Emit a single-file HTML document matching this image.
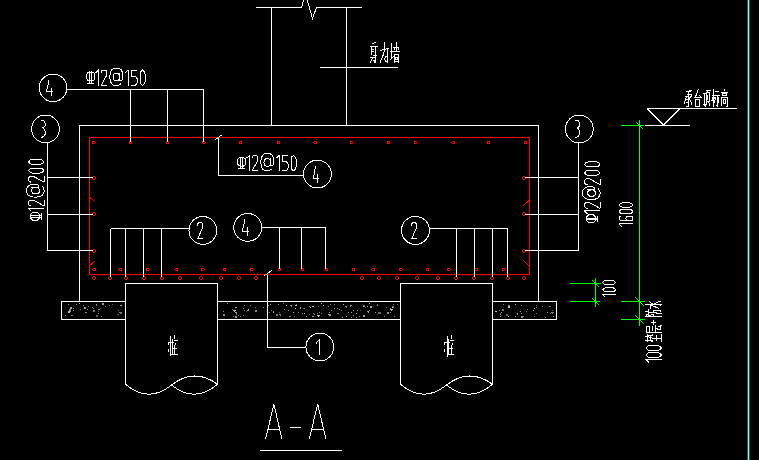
<!DOCTYPE html>
<html><head><meta charset="utf-8"><title>A-A</title>
<style>html,body{margin:0;padding:0;background:#000;overflow:hidden;font-family:"Liberation Sans",sans-serif;}svg{display:block}</style>
</head><body>
<svg width="759" height="460" viewBox="0 0 759 460" shape-rendering="crispEdges">
<rect x="0" y="0" width="759" height="460" fill="#000"/>
<line x1="748.5" y1="0" x2="748.5" y2="460" stroke="#7dfbfa" stroke-width="1.7" shape-rendering="auto"/>
<line x1="271.5" y1="8" x2="271.5" y2="125" stroke="#fff" stroke-width="1" shape-rendering="crispEdges"/>
<line x1="346.5" y1="8" x2="346.5" y2="125" stroke="#fff" stroke-width="1" shape-rendering="crispEdges"/>
<line x1="256" y1="7.5" x2="302" y2="7.5" stroke="#fff" stroke-width="1" shape-rendering="crispEdges"/>
<line x1="316.5" y1="7.5" x2="362" y2="7.5" stroke="#fff" stroke-width="1" shape-rendering="crispEdges"/>
<path d="M301.5,7.5 L305.5,-6 L312.5,18.5 L316.5,7.5" stroke="#fff" stroke-width="1" fill="none" />
<line x1="320" y1="67.5" x2="398" y2="67.5" stroke="#fff" stroke-width="1" shape-rendering="crispEdges"/>
<path d="M79.5,301 L79.5,125.5 L538.5,125.5 L538.5,301" stroke="#fff" stroke-width="1" fill="none" shape-rendering="crispEdges"/>
<path d="M89.5,137.5 L529.5,137.5 L529.5,274.5 L89.5,274.5 Z" stroke="#ff0000" stroke-width="1.3" fill="none" shape-rendering="crispEdges"/>
<rect x="82.6" y="305.1" width="1" height="1" fill="#8a8a8a"/>
<rect x="112.0" y="304.3" width="1" height="1" fill="#666"/>
<rect x="76.2" y="304.2" width="1" height="1" fill="#a0a0a0"/>
<rect x="68.9" y="308.9" width="2" height="2" fill="#8a8a8a"/>
<rect x="119.4" y="311.8" width="1" height="1" fill="#8a8a8a"/>
<path d="M97.5,308.6 l3,0 l-1.5,1.8 z" fill="#8a8a8a"/>
<rect x="96.3" y="304.9" width="1" height="1" fill="#666"/>
<rect x="70.4" y="307.3" width="2" height="2" fill="#a0a0a0"/>
<rect x="69.6" y="311.0" width="1" height="1" fill="#8a8a8a"/>
<rect x="95.8" y="303.9" width="1" height="1" fill="#a0a0a0"/>
<rect x="92.8" y="310.4" width="2" height="2" fill="#777"/>
<rect x="98.0" y="309.3" width="1" height="1" fill="#a0a0a0"/>
<rect x="104.7" y="306.4" width="1" height="1" fill="#666"/>
<rect x="92.7" y="307.8" width="1" height="1" fill="#666"/>
<rect x="121.3" y="304.7" width="1" height="1" fill="#bdbdbd"/>
<rect x="72.5" y="309.8" width="1" height="1" fill="#959595"/>
<rect x="68.1" y="310.8" width="2" height="2" fill="#bdbdbd"/>
<rect x="83.6" y="307.9" width="1" height="1" fill="#777"/>
<rect x="67.6" y="304.3" width="1" height="1" fill="#959595"/>
<rect x="102.7" y="303.8" width="1" height="1" fill="#959595"/>
<rect x="97.6" y="312.5" width="1" height="1" fill="#959595"/>
<rect x="86.3" y="312.4" width="1" height="1" fill="#777"/>
<rect x="84.5" y="311.6" width="1" height="1" fill="#a0a0a0"/>
<rect x="108.8" y="304.8" width="1" height="1" fill="#777"/>
<rect x="117.6" y="310.0" width="1" height="1" fill="#777"/>
<rect x="95.9" y="315.4" width="2" height="2" fill="#666"/>
<rect x="79.9" y="308.8" width="1" height="1" fill="#777"/>
<rect x="120.0" y="305.1" width="1" height="1" fill="#a0a0a0"/>
<rect x="102.4" y="303.2" width="2" height="2" fill="#a0a0a0"/>
<rect x="79.0" y="303.1" width="1" height="1" fill="#bdbdbd"/>
<rect x="99.5" y="307.5" width="1" height="1" fill="#666"/>
<rect x="119.6" y="312.2" width="2" height="2" fill="#777"/>
<path d="M116.6,313.9 l3,0 l-1.5,1.8 z" fill="#666"/>
<rect x="86.7" y="308.6" width="1" height="1" fill="#959595"/>
<path d="M87.1,305.7 l3,0 l-1.5,1.8 z" fill="#777"/>
<rect x="73.1" y="307.8" width="1" height="1" fill="#8a8a8a"/>
<path d="M96.9,310.5 l3,0 l-1.5,1.8 z" fill="#666"/>
<rect x="65.0" y="315.2" width="1" height="1" fill="#a0a0a0"/>
<rect x="100.9" y="316.4" width="1" height="1" fill="#777"/>
<path d="M70.7,314.9 l3,0 l-1.5,1.8 z" fill="#777"/>
<rect x="91.8" y="307.4" width="1" height="1" fill="#959595"/>
<rect x="83.7" y="306.7" width="2" height="2" fill="#a0a0a0"/>
<path d="M311.4,305.9 l3,0 l-1.5,1.8 z" fill="#bdbdbd"/>
<rect x="245.6" y="310.6" width="1" height="1" fill="#666"/>
<rect x="272.6" y="312.0" width="1" height="1" fill="#bdbdbd"/>
<rect x="311.8" y="315.7" width="1" height="1" fill="#a0a0a0"/>
<rect x="314.3" y="313.9" width="1" height="1" fill="#a0a0a0"/>
<rect x="328.7" y="314.0" width="2" height="2" fill="#a0a0a0"/>
<rect x="363.0" y="314.5" width="2" height="2" fill="#a0a0a0"/>
<rect x="255.1" y="309.9" width="2" height="2" fill="#8a8a8a"/>
<rect x="360.1" y="309.6" width="1" height="1" fill="#666"/>
<path d="M389.8,309.3 l3,0 l-1.5,1.8 z" fill="#bdbdbd"/>
<rect x="389.5" y="308.1" width="1" height="1" fill="#a0a0a0"/>
<rect x="303.2" y="307.7" width="1" height="1" fill="#666"/>
<rect x="369.1" y="309.7" width="1" height="1" fill="#959595"/>
<path d="M234.6,312.2 l3,0 l-1.5,1.8 z" fill="#959595"/>
<rect x="353.0" y="309.7" width="1" height="1" fill="#959595"/>
<path d="M278.7,314.2 l3,0 l-1.5,1.8 z" fill="#777"/>
<rect x="301.9" y="313.4" width="1" height="1" fill="#a0a0a0"/>
<rect x="249.8" y="304.8" width="1" height="1" fill="#777"/>
<rect x="363.1" y="305.0" width="2" height="2" fill="#777"/>
<rect x="336.5" y="307.9" width="1" height="1" fill="#a0a0a0"/>
<rect x="223.3" y="314.2" width="2" height="2" fill="#8a8a8a"/>
<rect x="313.2" y="316.1" width="1" height="1" fill="#a0a0a0"/>
<rect x="366.6" y="306.0" width="1" height="1" fill="#bdbdbd"/>
<rect x="308.7" y="313.7" width="1" height="1" fill="#666"/>
<path d="M294.1,304.8 l3,0 l-1.5,1.8 z" fill="#bdbdbd"/>
<rect x="379.3" y="312.3" width="2" height="2" fill="#666"/>
<rect x="294.4" y="315.8" width="1" height="1" fill="#666"/>
<path d="M246.5,310.1 l3,0 l-1.5,1.8 z" fill="#a0a0a0"/>
<rect x="327.8" y="313.9" width="1" height="1" fill="#a0a0a0"/>
<rect x="303.8" y="313.2" width="1" height="1" fill="#bdbdbd"/>
<rect x="341.0" y="310.4" width="1" height="1" fill="#8a8a8a"/>
<rect x="376.7" y="303.8" width="1" height="1" fill="#8a8a8a"/>
<rect x="357.0" y="310.1" width="1" height="1" fill="#8a8a8a"/>
<rect x="298.4" y="311.6" width="1" height="1" fill="#666"/>
<rect x="255.0" y="306.9" width="1" height="1" fill="#777"/>
<rect x="309.9" y="306.5" width="1" height="1" fill="#bdbdbd"/>
<rect x="383.8" y="315.5" width="1" height="1" fill="#777"/>
<rect x="243.9" y="304.7" width="1" height="1" fill="#8a8a8a"/>
<rect x="339.0" y="309.0" width="1" height="1" fill="#bdbdbd"/>
<rect x="359.0" y="315.6" width="1" height="1" fill="#959595"/>
<rect x="334.0" y="308.1" width="1" height="1" fill="#a0a0a0"/>
<path d="M391.7,306.1 l3,0 l-1.5,1.8 z" fill="#777"/>
<rect x="377.0" y="305.3" width="1" height="1" fill="#a0a0a0"/>
<rect x="248.2" y="309.0" width="1" height="1" fill="#bdbdbd"/>
<rect x="294.5" y="308.0" width="1" height="1" fill="#bdbdbd"/>
<rect x="223.0" y="310.8" width="1" height="1" fill="#8a8a8a"/>
<rect x="287.9" y="310.2" width="1" height="1" fill="#8a8a8a"/>
<rect x="239.6" y="315.9" width="1" height="1" fill="#8a8a8a"/>
<path d="M234.5,306.8 l3,0 l-1.5,1.8 z" fill="#a0a0a0"/>
<rect x="267.6" y="304.8" width="1" height="1" fill="#959595"/>
<rect x="365.3" y="306.6" width="1" height="1" fill="#666"/>
<rect x="321.1" y="312.8" width="1" height="1" fill="#8a8a8a"/>
<path d="M361.8,305.6 l3,0 l-1.5,1.8 z" fill="#bdbdbd"/>
<rect x="386.5" y="311.9" width="2" height="2" fill="#8a8a8a"/>
<rect x="327.8" y="306.1" width="1" height="1" fill="#8a8a8a"/>
<rect x="300.3" y="307.7" width="1" height="1" fill="#bdbdbd"/>
<rect x="330.2" y="303.6" width="1" height="1" fill="#8a8a8a"/>
<rect x="392.0" y="306.7" width="1" height="1" fill="#bdbdbd"/>
<rect x="331.4" y="310.4" width="1" height="1" fill="#777"/>
<rect x="308.5" y="305.5" width="1" height="1" fill="#8a8a8a"/>
<rect x="396.5" y="303.5" width="1" height="1" fill="#666"/>
<rect x="317.6" y="305.7" width="1" height="1" fill="#777"/>
<rect x="238.4" y="314.5" width="1" height="1" fill="#777"/>
<path d="M316.7,315.4 l3,0 l-1.5,1.8 z" fill="#bdbdbd"/>
<rect x="341.9" y="316.8" width="1" height="1" fill="#959595"/>
<path d="M349.2,305.0 l3,0 l-1.5,1.8 z" fill="#8a8a8a"/>
<rect x="368.5" y="303.2" width="1" height="1" fill="#bdbdbd"/>
<rect x="296.2" y="303.8" width="1" height="1" fill="#777"/>
<rect x="374.5" y="312.4" width="1" height="1" fill="#a0a0a0"/>
<rect x="342.8" y="303.6" width="1" height="1" fill="#bdbdbd"/>
<path d="M298.9,306.7 l3,0 l-1.5,1.8 z" fill="#666"/>
<path d="M277.1,303.5 l3,0 l-1.5,1.8 z" fill="#a0a0a0"/>
<rect x="283.0" y="303.0" width="1" height="1" fill="#777"/>
<rect x="269.1" y="312.2" width="1" height="1" fill="#8a8a8a"/>
<rect x="235.7" y="314.4" width="1" height="1" fill="#666"/>
<rect x="226.9" y="303.3" width="1" height="1" fill="#a0a0a0"/>
<rect x="234.5" y="316.4" width="2" height="2" fill="#a0a0a0"/>
<path d="M336.5,313.0 l3,0 l-1.5,1.8 z" fill="#777"/>
<rect x="355.5" y="313.1" width="1" height="1" fill="#bdbdbd"/>
<rect x="348.4" y="312.0" width="1" height="1" fill="#959595"/>
<rect x="378.3" y="311.8" width="2" height="2" fill="#666"/>
<rect x="244.3" y="310.3" width="1" height="1" fill="#8a8a8a"/>
<path d="M366.6,311.2 l3,0 l-1.5,1.8 z" fill="#959595"/>
<rect x="389.7" y="312.0" width="1" height="1" fill="#8a8a8a"/>
<rect x="243.2" y="308.0" width="1" height="1" fill="#777"/>
<rect x="318.9" y="311.8" width="1" height="1" fill="#959595"/>
<rect x="263.0" y="306.7" width="1" height="1" fill="#8a8a8a"/>
<rect x="352.7" y="310.0" width="1" height="1" fill="#959595"/>
<rect x="313.1" y="313.4" width="1" height="1" fill="#8a8a8a"/>
<rect x="370.1" y="306.3" width="2" height="2" fill="#a0a0a0"/>
<rect x="351.2" y="316.7" width="1" height="1" fill="#777"/>
<rect x="233.2" y="315.7" width="1" height="1" fill="#8a8a8a"/>
<rect x="329.3" y="312.0" width="1" height="1" fill="#a0a0a0"/>
<rect x="278.6" y="312.1" width="1" height="1" fill="#666"/>
<rect x="320.6" y="303.2" width="1" height="1" fill="#bdbdbd"/>
<rect x="392.6" y="304.4" width="1" height="1" fill="#777"/>
<rect x="271.3" y="310.2" width="1" height="1" fill="#777"/>
<rect x="356.1" y="316.9" width="1" height="1" fill="#bdbdbd"/>
<rect x="393.6" y="316.1" width="1" height="1" fill="#777"/>
<path d="M233.1,310.1 l3,0 l-1.5,1.8 z" fill="#bdbdbd"/>
<path d="M288.4,315.8 l3,0 l-1.5,1.8 z" fill="#8a8a8a"/>
<rect x="323.0" y="305.0" width="1" height="1" fill="#bdbdbd"/>
<rect x="243.1" y="314.5" width="1" height="1" fill="#8a8a8a"/>
<path d="M344.7,306.2 l3,0 l-1.5,1.8 z" fill="#777"/>
<path d="M289.6,305.2 l3,0 l-1.5,1.8 z" fill="#959595"/>
<rect x="299.7" y="307.2" width="1" height="1" fill="#bdbdbd"/>
<rect x="286.4" y="304.7" width="1" height="1" fill="#bdbdbd"/>
<rect x="353.1" y="314.7" width="1" height="1" fill="#a0a0a0"/>
<rect x="346.4" y="315.6" width="1" height="1" fill="#bdbdbd"/>
<path d="M231.1,308.5 l3,0 l-1.5,1.8 z" fill="#8a8a8a"/>
<rect x="283.7" y="309.0" width="1" height="1" fill="#8a8a8a"/>
<rect x="269.5" y="303.7" width="1" height="1" fill="#959595"/>
<rect x="386.0" y="306.5" width="1" height="1" fill="#666"/>
<rect x="275.7" y="313.8" width="2" height="2" fill="#777"/>
<rect x="376.9" y="314.4" width="1" height="1" fill="#666"/>
<rect x="317.3" y="313.1" width="1" height="1" fill="#959595"/>
<rect x="292.6" y="311.6" width="1" height="1" fill="#bdbdbd"/>
<rect x="305.9" y="315.8" width="1" height="1" fill="#a0a0a0"/>
<rect x="303.5" y="307.8" width="1" height="1" fill="#959595"/>
<rect x="351.0" y="312.1" width="1" height="1" fill="#a0a0a0"/>
<rect x="273.0" y="310.8" width="1" height="1" fill="#a0a0a0"/>
<rect x="334.0" y="304.1" width="1" height="1" fill="#777"/>
<rect x="527.0" y="309.3" width="1" height="1" fill="#777"/>
<rect x="519.7" y="310.7" width="1" height="1" fill="#a0a0a0"/>
<rect x="514.7" y="304.3" width="1" height="1" fill="#bdbdbd"/>
<rect x="542.3" y="305.8" width="1" height="1" fill="#777"/>
<rect x="517.1" y="313.4" width="1" height="1" fill="#bdbdbd"/>
<rect x="514.5" y="303.9" width="1" height="1" fill="#bdbdbd"/>
<rect x="501.9" y="310.0" width="1" height="1" fill="#a0a0a0"/>
<rect x="500.0" y="315.6" width="1" height="1" fill="#959595"/>
<rect x="520.8" y="316.4" width="2" height="2" fill="#8a8a8a"/>
<rect x="502.0" y="309.0" width="2" height="2" fill="#777"/>
<rect x="551.6" y="309.9" width="1" height="1" fill="#666"/>
<rect x="545.0" y="316.6" width="1" height="1" fill="#8a8a8a"/>
<path d="M507.7,305.1 l3,0 l-1.5,1.8 z" fill="#8a8a8a"/>
<rect x="550.0" y="313.1" width="1" height="1" fill="#777"/>
<rect x="499.5" y="313.9" width="1" height="1" fill="#a0a0a0"/>
<rect x="508.2" y="315.9" width="1" height="1" fill="#bdbdbd"/>
<rect x="551.3" y="311.8" width="1" height="1" fill="#777"/>
<rect x="535.7" y="304.6" width="1" height="1" fill="#666"/>
<rect x="550.2" y="305.7" width="1" height="1" fill="#666"/>
<path d="M494.6,310.5 l3,0 l-1.5,1.8 z" fill="#bdbdbd"/>
<path d="M551.1,312.0 l3,0 l-1.5,1.8 z" fill="#777"/>
<rect x="525.6" y="310.7" width="1" height="1" fill="#777"/>
<rect x="536.1" y="307.3" width="1" height="1" fill="#777"/>
<rect x="546.7" y="312.1" width="1" height="1" fill="#a0a0a0"/>
<rect x="533.9" y="316.0" width="1" height="1" fill="#8a8a8a"/>
<rect x="535.6" y="313.1" width="1" height="1" fill="#777"/>
<rect x="506.2" y="314.2" width="2" height="2" fill="#666"/>
<rect x="498.5" y="309.9" width="1" height="1" fill="#a0a0a0"/>
<rect x="508.1" y="306.1" width="2" height="2" fill="#bdbdbd"/>
<rect x="500.9" y="311.7" width="1" height="1" fill="#a0a0a0"/>
<rect x="523.1" y="315.7" width="1" height="1" fill="#666"/>
<rect x="503.1" y="308.5" width="1" height="1" fill="#666"/>
<rect x="502.9" y="303.7" width="1" height="1" fill="#777"/>
<rect x="521.0" y="313.0" width="1" height="1" fill="#8a8a8a"/>
<rect x="553.4" y="316.0" width="1" height="1" fill="#a0a0a0"/>
<rect x="533.0" y="310.3" width="1" height="1" fill="#bdbdbd"/>
<rect x="533.7" y="308.3" width="1" height="1" fill="#bdbdbd"/>
<rect x="520.6" y="304.5" width="1" height="1" fill="#8a8a8a"/>
<rect x="515.2" y="316.4" width="1" height="1" fill="#a0a0a0"/>
<rect x="516.9" y="313.8" width="1" height="1" fill="#777"/>
<rect x="499.7" y="312.9" width="1" height="1" fill="#666"/>
<rect x="548.8" y="305.7" width="1" height="1" fill="#777"/>
<path d="M125.5,301.5 L61.5,301.5 L61.5,319.5 L125.5,319.5" stroke="#fff" stroke-width="1" fill="none" shape-rendering="crispEdges"/>
<line x1="217.5" y1="301.5" x2="400.5" y2="301.5" stroke="#fff" stroke-width="1" shape-rendering="crispEdges"/>
<line x1="217.5" y1="319.5" x2="400.5" y2="319.5" stroke="#fff" stroke-width="1" shape-rendering="crispEdges"/>
<path d="M492.5,301.5 L556.5,301.5 L556.5,319.5 L492.5,319.5" stroke="#fff" stroke-width="1" fill="none" shape-rendering="crispEdges"/>
<path d="M125.5,384.3 L125.5,283.5 L217.5,283.5 L217.5,384.3" stroke="#fff" stroke-width="1" fill="none" shape-rendering="crispEdges"/>
<path d="M125.5,384.3 Q148.5,403.8 171.5,385.0" stroke="#fff" stroke-width="1" fill="none" />
<path d="M171.5,385.0 Q194.5,367.3 217.5,384.3" stroke="#fff" stroke-width="1" fill="none" />
<path d="M171.5,385.0 Q194.5,403.8 217.5,384.3" stroke="#fff" stroke-width="1" fill="none" />
<path d="M400.5,384.3 L400.5,283.5 L492.5,283.5 L492.5,384.3" stroke="#fff" stroke-width="1" fill="none" shape-rendering="crispEdges"/>
<path d="M400.5,384.3 Q423.5,403.8 446.5,385.0" stroke="#fff" stroke-width="1" fill="none" />
<path d="M446.5,385.0 Q469.5,367.3 492.5,384.3" stroke="#fff" stroke-width="1" fill="none" />
<path d="M446.5,385.0 Q469.5,403.8 492.5,384.3" stroke="#fff" stroke-width="1" fill="none" />
<path d="M92,141h1v1h-1zM93,141h1v1h-1zM94,141h1v1h-1zM92,142h1v1h-1zM95,142h1v1h-1zM92,143h1v1h-1zM93,143h1v1h-1zM94,143h1v1h-1zM129,141h1v1h-1zM130,141h1v1h-1zM131,141h1v1h-1zM129,142h1v1h-1zM131,142h1v1h-1zM129,143h1v1h-1zM130,143h1v1h-1zM131,143h1v1h-1zM166,141h1v1h-1zM167,141h1v1h-1zM168,141h1v1h-1zM166,142h1v1h-1zM168,142h1v1h-1zM166,143h1v1h-1zM167,143h1v1h-1zM168,143h1v1h-1zM202,141h1v1h-1zM203,141h1v1h-1zM204,141h1v1h-1zM202,142h1v1h-1zM205,142h1v1h-1zM202,143h1v1h-1zM203,143h1v1h-1zM204,143h1v1h-1zM239,141h1v1h-1zM240,141h1v1h-1zM241,141h1v1h-1zM239,142h1v1h-1zM241,142h1v1h-1zM239,143h1v1h-1zM240,143h1v1h-1zM241,143h1v1h-1zM277,141h1v1h-1zM278,141h1v1h-1zM279,141h1v1h-1zM277,142h1v1h-1zM279,142h1v1h-1zM277,143h1v1h-1zM278,143h1v1h-1zM279,143h1v1h-1zM314,141h1v1h-1zM315,141h1v1h-1zM316,141h1v1h-1zM313,142h1v1h-1zM316,142h1v1h-1zM314,143h1v1h-1zM315,143h1v1h-1zM316,143h1v1h-1zM350,141h1v1h-1zM351,141h1v1h-1zM352,141h1v1h-1zM350,142h1v1h-1zM353,142h1v1h-1zM350,143h1v1h-1zM351,143h1v1h-1zM352,143h1v1h-1zM387,141h1v1h-1zM388,141h1v1h-1zM389,141h1v1h-1zM387,142h1v1h-1zM389,142h1v1h-1zM387,143h1v1h-1zM388,143h1v1h-1zM389,143h1v1h-1zM414,141h1v1h-1zM415,141h1v1h-1zM416,141h1v1h-1zM414,142h1v1h-1zM417,142h1v1h-1zM414,143h1v1h-1zM415,143h1v1h-1zM416,143h1v1h-1zM452,141h1v1h-1zM453,141h1v1h-1zM454,141h1v1h-1zM451,142h1v1h-1zM454,142h1v1h-1zM452,143h1v1h-1zM453,143h1v1h-1zM454,143h1v1h-1zM487,141h1v1h-1zM488,141h1v1h-1zM489,141h1v1h-1zM487,142h1v1h-1zM489,142h1v1h-1zM487,143h1v1h-1zM488,143h1v1h-1zM489,143h1v1h-1zM524,141h1v1h-1zM525,141h1v1h-1zM526,141h1v1h-1zM524,142h1v1h-1zM526,142h1v1h-1zM524,143h1v1h-1zM525,143h1v1h-1zM526,143h1v1h-1zM93,268h1v1h-1zM94,268h1v1h-1zM95,268h1v1h-1zM92,269h1v1h-1zM95,269h1v1h-1zM93,270h1v1h-1zM94,270h1v1h-1zM95,270h1v1h-1zM119,268h1v1h-1zM120,268h1v1h-1zM121,268h1v1h-1zM118,269h1v1h-1zM121,269h1v1h-1zM119,270h1v1h-1zM120,270h1v1h-1zM121,270h1v1h-1zM146,268h1v1h-1zM147,268h1v1h-1zM148,268h1v1h-1zM146,269h1v1h-1zM149,269h1v1h-1zM146,270h1v1h-1zM147,270h1v1h-1zM148,270h1v1h-1zM175,268h1v1h-1zM176,268h1v1h-1zM177,268h1v1h-1zM174,269h1v1h-1zM177,269h1v1h-1zM175,270h1v1h-1zM176,270h1v1h-1zM177,270h1v1h-1zM201,268h1v1h-1zM202,268h1v1h-1zM203,268h1v1h-1zM201,269h1v1h-1zM204,269h1v1h-1zM201,270h1v1h-1zM202,270h1v1h-1zM203,270h1v1h-1zM223,268h1v1h-1zM224,268h1v1h-1zM225,268h1v1h-1zM223,269h1v1h-1zM225,269h1v1h-1zM223,270h1v1h-1zM224,270h1v1h-1zM225,270h1v1h-1zM250,268h1v1h-1zM251,268h1v1h-1zM252,268h1v1h-1zM250,269h1v1h-1zM253,269h1v1h-1zM250,270h1v1h-1zM251,270h1v1h-1zM252,270h1v1h-1zM278,268h1v1h-1zM279,268h1v1h-1zM280,268h1v1h-1zM278,269h1v1h-1zM280,269h1v1h-1zM278,270h1v1h-1zM279,270h1v1h-1zM280,270h1v1h-1zM301,268h1v1h-1zM302,268h1v1h-1zM303,268h1v1h-1zM301,269h1v1h-1zM303,269h1v1h-1zM301,270h1v1h-1zM302,270h1v1h-1zM303,270h1v1h-1zM325,268h1v1h-1zM326,268h1v1h-1zM327,268h1v1h-1zM325,269h1v1h-1zM327,269h1v1h-1zM325,270h1v1h-1zM326,270h1v1h-1zM327,270h1v1h-1zM352,268h1v1h-1zM353,268h1v1h-1zM354,268h1v1h-1zM352,269h1v1h-1zM354,269h1v1h-1zM352,270h1v1h-1zM353,270h1v1h-1zM354,270h1v1h-1zM372,268h1v1h-1zM373,268h1v1h-1zM374,268h1v1h-1zM371,269h1v1h-1zM374,269h1v1h-1zM372,270h1v1h-1zM373,270h1v1h-1zM374,270h1v1h-1zM399,268h1v1h-1zM400,268h1v1h-1zM401,268h1v1h-1zM399,269h1v1h-1zM402,269h1v1h-1zM399,270h1v1h-1zM400,270h1v1h-1zM401,270h1v1h-1zM426,268h1v1h-1zM427,268h1v1h-1zM428,268h1v1h-1zM426,269h1v1h-1zM428,269h1v1h-1zM426,270h1v1h-1zM427,270h1v1h-1zM428,270h1v1h-1zM447,268h1v1h-1zM448,268h1v1h-1zM449,268h1v1h-1zM447,269h1v1h-1zM450,269h1v1h-1zM447,270h1v1h-1zM448,270h1v1h-1zM449,270h1v1h-1zM475,268h1v1h-1zM476,268h1v1h-1zM477,268h1v1h-1zM474,269h1v1h-1zM477,269h1v1h-1zM475,270h1v1h-1zM476,270h1v1h-1zM477,270h1v1h-1zM502,268h1v1h-1zM503,268h1v1h-1zM504,268h1v1h-1zM502,269h1v1h-1zM505,269h1v1h-1zM502,270h1v1h-1zM503,270h1v1h-1zM504,270h1v1h-1zM93,276h1v1h-1zM94,276h1v1h-1zM92,277h1v1h-1zM95,277h1v1h-1zM92,278h1v1h-1zM95,278h1v1h-1zM93,279h1v1h-1zM94,279h1v1h-1zM109,276h1v1h-1zM110,276h1v1h-1zM108,277h1v1h-1zM111,277h1v1h-1zM108,278h1v1h-1zM111,278h1v1h-1zM109,279h1v1h-1zM110,279h1v1h-1zM125,276h1v1h-1zM126,276h1v1h-1zM124,277h1v1h-1zM127,277h1v1h-1zM124,278h1v1h-1zM127,278h1v1h-1zM125,279h1v1h-1zM126,279h1v1h-1zM143,276h1v1h-1zM144,276h1v1h-1zM142,277h1v1h-1zM145,277h1v1h-1zM142,278h1v1h-1zM145,278h1v1h-1zM143,279h1v1h-1zM144,279h1v1h-1zM161,276h1v1h-1zM162,276h1v1h-1zM160,277h1v1h-1zM163,277h1v1h-1zM160,278h1v1h-1zM163,278h1v1h-1zM161,279h1v1h-1zM162,279h1v1h-1zM179,276h1v1h-1zM180,276h1v1h-1zM178,277h1v1h-1zM181,277h1v1h-1zM178,278h1v1h-1zM181,278h1v1h-1zM179,279h1v1h-1zM180,279h1v1h-1zM200,276h1v1h-1zM201,276h1v1h-1zM199,277h1v1h-1zM202,277h1v1h-1zM199,278h1v1h-1zM202,278h1v1h-1zM200,279h1v1h-1zM201,279h1v1h-1zM220,276h1v1h-1zM221,276h1v1h-1zM219,277h1v1h-1zM222,277h1v1h-1zM219,278h1v1h-1zM222,278h1v1h-1zM220,279h1v1h-1zM221,279h1v1h-1zM238,276h1v1h-1zM239,276h1v1h-1zM237,277h1v1h-1zM240,277h1v1h-1zM237,278h1v1h-1zM240,278h1v1h-1zM238,279h1v1h-1zM239,279h1v1h-1zM255,276h1v1h-1zM256,276h1v1h-1zM254,277h1v1h-1zM257,277h1v1h-1zM254,278h1v1h-1zM257,278h1v1h-1zM255,279h1v1h-1zM256,279h1v1h-1zM361,276h1v1h-1zM362,276h1v1h-1zM360,277h1v1h-1zM363,277h1v1h-1zM360,278h1v1h-1zM363,278h1v1h-1zM361,279h1v1h-1zM362,279h1v1h-1zM378,276h1v1h-1zM379,276h1v1h-1zM377,277h1v1h-1zM380,277h1v1h-1zM377,278h1v1h-1zM380,278h1v1h-1zM378,279h1v1h-1zM379,279h1v1h-1zM396,276h1v1h-1zM397,276h1v1h-1zM395,277h1v1h-1zM398,277h1v1h-1zM395,278h1v1h-1zM398,278h1v1h-1zM396,279h1v1h-1zM397,279h1v1h-1zM416,276h1v1h-1zM417,276h1v1h-1zM415,277h1v1h-1zM418,277h1v1h-1zM415,278h1v1h-1zM418,278h1v1h-1zM416,279h1v1h-1zM417,279h1v1h-1zM437,276h1v1h-1zM438,276h1v1h-1zM436,277h1v1h-1zM439,277h1v1h-1zM436,278h1v1h-1zM439,278h1v1h-1zM437,279h1v1h-1zM438,279h1v1h-1zM455,276h1v1h-1zM456,276h1v1h-1zM454,277h1v1h-1zM457,277h1v1h-1zM454,278h1v1h-1zM457,278h1v1h-1zM455,279h1v1h-1zM456,279h1v1h-1zM473,276h1v1h-1zM474,276h1v1h-1zM472,277h1v1h-1zM475,277h1v1h-1zM472,278h1v1h-1zM475,278h1v1h-1zM473,279h1v1h-1zM474,279h1v1h-1zM491,276h1v1h-1zM492,276h1v1h-1zM490,277h1v1h-1zM493,277h1v1h-1zM490,278h1v1h-1zM493,278h1v1h-1zM491,279h1v1h-1zM492,279h1v1h-1zM507,276h1v1h-1zM508,276h1v1h-1zM506,277h1v1h-1zM509,277h1v1h-1zM506,278h1v1h-1zM509,278h1v1h-1zM507,279h1v1h-1zM508,279h1v1h-1zM523,276h1v1h-1zM524,276h1v1h-1zM522,277h1v1h-1zM525,277h1v1h-1zM522,278h1v1h-1zM525,278h1v1h-1zM523,279h1v1h-1zM524,279h1v1h-1zM93,176h1v1h-1zM94,176h1v1h-1zM92,177h1v1h-1zM95,177h1v1h-1zM92,178h1v1h-1zM95,178h1v1h-1zM93,179h1v1h-1zM94,179h1v1h-1zM523,176h1v1h-1zM524,176h1v1h-1zM522,177h1v1h-1zM525,177h1v1h-1zM522,178h1v1h-1zM525,178h1v1h-1zM523,179h1v1h-1zM524,179h1v1h-1zM93,212h1v1h-1zM94,212h1v1h-1zM92,213h1v1h-1zM95,213h1v1h-1zM92,214h1v1h-1zM95,214h1v1h-1zM93,215h1v1h-1zM94,215h1v1h-1zM523,212h1v1h-1zM524,212h1v1h-1zM522,213h1v1h-1zM525,213h1v1h-1zM522,214h1v1h-1zM525,214h1v1h-1zM523,215h1v1h-1zM524,215h1v1h-1zM93,249h1v1h-1zM94,249h1v1h-1zM92,250h1v1h-1zM95,250h1v1h-1zM92,251h1v1h-1zM95,251h1v1h-1zM93,252h1v1h-1zM94,252h1v1h-1zM523,249h1v1h-1zM524,249h1v1h-1zM522,250h1v1h-1zM525,250h1v1h-1zM522,251h1v1h-1zM525,251h1v1h-1zM523,252h1v1h-1zM524,252h1v1h-1z" fill="#ff0000" stroke="none"/>
<path d="M89.5,197 L95,201.7" stroke="#ff0000" stroke-width="1" fill="none" />
<path d="M89.5,265.7 L95,261" stroke="#ff0000" stroke-width="1" fill="none" />
<path d="M529.5,200 L523,206" stroke="#ff0000" stroke-width="1" fill="none" />
<path d="M529.5,266.5 L523.5,260.5" stroke="#ff0000" stroke-width="1" fill="none" />
<circle cx="53.05" cy="87.85" r="13.8" stroke="#fff" stroke-width="1" fill="none"/>
<line x1="66.8" y1="89.5" x2="204" y2="89.5" stroke="#fff" stroke-width="1" shape-rendering="crispEdges"/>
<line x1="130.5" y1="89.5" x2="130.5" y2="142" stroke="#fff" stroke-width="1" shape-rendering="crispEdges"/>
<line x1="167.5" y1="89.5" x2="167.5" y2="142" stroke="#fff" stroke-width="1" shape-rendering="crispEdges"/>
<line x1="203.5" y1="89.5" x2="203.5" y2="142" stroke="#fff" stroke-width="1" shape-rendering="crispEdges"/>
<circle cx="45.5" cy="128.95" r="13.9" stroke="#fff" stroke-width="1" fill="none"/>
<line x1="47.5" y1="142.4" x2="47.5" y2="251" stroke="#fff" stroke-width="1" shape-rendering="crispEdges"/>
<line x1="47.5" y1="177.5" x2="93" y2="177.5" stroke="#fff" stroke-width="1" shape-rendering="crispEdges"/>
<line x1="47.5" y1="214.5" x2="93" y2="214.5" stroke="#fff" stroke-width="1" shape-rendering="crispEdges"/>
<line x1="47.5" y1="250.5" x2="93" y2="250.5" stroke="#fff" stroke-width="1" shape-rendering="crispEdges"/>
<circle cx="579.3" cy="129" r="13.9" stroke="#fff" stroke-width="1" fill="none"/>
<line x1="578.5" y1="142.6" x2="578.5" y2="251" stroke="#fff" stroke-width="1" shape-rendering="crispEdges"/>
<line x1="525" y1="177.5" x2="578.5" y2="177.5" stroke="#fff" stroke-width="1" shape-rendering="crispEdges"/>
<line x1="525" y1="214.5" x2="578.5" y2="214.5" stroke="#fff" stroke-width="1" shape-rendering="crispEdges"/>
<line x1="525" y1="250.5" x2="578.5" y2="250.5" stroke="#fff" stroke-width="1" shape-rendering="crispEdges"/>
<path d="M215,139.7 L222,134.8" stroke="#fff" stroke-width="1" fill="none" />
<path d="M218.5,138 L218.5,175.5 L303.3,175.5" stroke="#fff" stroke-width="1" fill="none" shape-rendering="crispEdges"/>
<circle cx="317.4" cy="174.05" r="13.9" stroke="#fff" stroke-width="1" fill="none"/>
<circle cx="202.85" cy="230.4" r="13.9" stroke="#fff" stroke-width="1" fill="none"/>
<line x1="110.5" y1="228.5" x2="188.8" y2="228.5" stroke="#fff" stroke-width="1" shape-rendering="crispEdges"/>
<line x1="110.5" y1="228.5" x2="110.5" y2="277" stroke="#fff" stroke-width="1" shape-rendering="crispEdges"/>
<line x1="125.5" y1="228.5" x2="125.5" y2="277" stroke="#fff" stroke-width="1" shape-rendering="crispEdges"/>
<line x1="143.5" y1="228.5" x2="143.5" y2="277" stroke="#fff" stroke-width="1" shape-rendering="crispEdges"/>
<line x1="161.5" y1="228.5" x2="161.5" y2="277" stroke="#fff" stroke-width="1" shape-rendering="crispEdges"/>
<circle cx="247.75" cy="227.4" r="13.95" stroke="#fff" stroke-width="1" fill="none"/>
<line x1="261.4" y1="227.5" x2="325.5" y2="227.5" stroke="#fff" stroke-width="1" shape-rendering="crispEdges"/>
<line x1="279.5" y1="227.5" x2="279.5" y2="269" stroke="#fff" stroke-width="1" shape-rendering="crispEdges"/>
<line x1="301.5" y1="227.5" x2="301.5" y2="269" stroke="#fff" stroke-width="1" shape-rendering="crispEdges"/>
<line x1="325.5" y1="227.5" x2="325.5" y2="269" stroke="#fff" stroke-width="1" shape-rendering="crispEdges"/>
<circle cx="415.45" cy="230.4" r="14" stroke="#fff" stroke-width="1" fill="none"/>
<line x1="428.9" y1="228.5" x2="507.5" y2="228.5" stroke="#fff" stroke-width="1" shape-rendering="crispEdges"/>
<line x1="456.5" y1="228.5" x2="456.5" y2="277" stroke="#fff" stroke-width="1" shape-rendering="crispEdges"/>
<line x1="474.5" y1="228.5" x2="474.5" y2="277" stroke="#fff" stroke-width="1" shape-rendering="crispEdges"/>
<line x1="492.5" y1="228.5" x2="492.5" y2="277" stroke="#fff" stroke-width="1" shape-rendering="crispEdges"/>
<line x1="507.5" y1="228.5" x2="507.5" y2="277" stroke="#fff" stroke-width="1" shape-rendering="crispEdges"/>
<circle cx="319.85" cy="347" r="13.9" stroke="#fff" stroke-width="1" fill="none"/>
<path d="M264.2,275.8 L271.8,270.4" stroke="#fff" stroke-width="1" fill="none" />
<path d="M267.5,275 L267.5,347.5 L305.6,347.5" stroke="#fff" stroke-width="1" fill="none" shape-rendering="crispEdges"/>
<line x1="639.5" y1="120" x2="639.5" y2="325.5" stroke="#00ff00" stroke-width="1.3" shape-rendering="crispEdges"/>
<line x1="621" y1="125.5" x2="644" y2="125.5" stroke="#00ff00" stroke-width="1.3" shape-rendering="crispEdges"/>
<line x1="621" y1="301.5" x2="644.5" y2="301.5" stroke="#00ff00" stroke-width="1.3" shape-rendering="crispEdges"/>
<line x1="621" y1="319.5" x2="644.5" y2="319.5" stroke="#00ff00" stroke-width="1.3" shape-rendering="crispEdges"/>
<path d="M636.2,122.2 L642.8,128.8" stroke="#00ff00" stroke-width="1.1" fill="none" />
<path d="M635.1,297.1 L643.9,305.9" stroke="#00ff00" stroke-width="1.1" fill="none" />
<path d="M635.1,315.1 L643.9,323.9" stroke="#00ff00" stroke-width="1.1" fill="none" />
<line x1="570" y1="283.5" x2="600.5" y2="283.5" stroke="#00ff00" stroke-width="1.3" shape-rendering="crispEdges"/>
<line x1="570" y1="301.5" x2="600" y2="301.5" stroke="#00ff00" stroke-width="1.3" shape-rendering="crispEdges"/>
<line x1="595.5" y1="278" x2="595.5" y2="307" stroke="#00ff00" stroke-width="1.3" shape-rendering="crispEdges"/>
<path d="M592.0,280.0 L599.0,287.0" stroke="#00ff00" stroke-width="1.1" fill="none" />
<path d="M592.0,298.0 L599.0,305.0" stroke="#00ff00" stroke-width="1.1" fill="none" />
<line x1="646.5" y1="108.5" x2="736.5" y2="108.5" stroke="#fff" stroke-width="1" shape-rendering="crispEdges"/>
<line x1="644.5" y1="125.5" x2="690" y2="125.5" stroke="#fff" stroke-width="1" shape-rendering="crispEdges"/>
<path d="M646.8,108.5 L663.5,125.2 L680.2,108.5" stroke="#fff" stroke-width="1" fill="none" />
<path d="M265.7,438.7 L273.9,404.1 L281.8,438.7 M267.9,429.6 L279.7,429.6" stroke="#fff" stroke-width="1" fill="none" />
<path d="M309.4,438.7 L317.7,404.1 L325.8,438.7 M311.5,429.6 L323.6,429.6" stroke="#fff" stroke-width="1" fill="none" />
<line x1="290" y1="427.5" x2="301" y2="427.5" stroke="#fff" stroke-width="1" shape-rendering="crispEdges"/>
<line x1="260" y1="450.5" x2="342" y2="450.5" stroke="#fff" stroke-width="1" shape-rendering="crispEdges"/>
<g transform="translate(85.8,70) rotate(0)" stroke="#fff" stroke-width="1" fill="none" stroke-linejoin="round" stroke-linecap="round">
<path transform="translate(0.00,0)" d="M4.90,2.00 Q9.20,2.00 9.20,6.50 Q9.20,11.00 4.90,11.00 Q0.60,11.00 0.60,6.50 Q0.60,2.00 4.90,2.00 Z M3.70,1.80 L3.70,13.40 M5.50,1.80 L5.50,13.40 M1.50,13.40 L7.70,13.40"/>
<path transform="translate(10.00,0)" d="M0.00,2.60 L2.70,0.00 L2.70,15.20"/>
<path transform="translate(15.20,0)" d="M0.00,2.60 Q0.30,0.00 3.00,0.00 Q6.00,0.00 6.00,3.00 Q6.00,5.00 4.50,7.50 L0.00,15.50 L6.00,15.50"/>
<path transform="translate(24.00,0)" d="M10.80,14.00 Q8.50,15.70 6.50,15.70 Q0.00,15.70 0.00,6.80 Q0.00,-2.00 6.50,-2.00 Q13.00,-2.00 13.00,5.50 Q13.00,10.50 11.00,10.50 Q9.70,10.50 9.70,9.00 L9.70,3.30 M9.70,7.10 Q9.70,3.20 6.50,3.20 Q3.20,3.20 3.20,7.10 Q3.20,11.00 6.50,11.00 Q9.70,11.00 9.70,7.10"/>
<path transform="translate(39.80,0)" d="M0.00,2.60 L2.70,0.00 L2.70,15.20"/>
<path transform="translate(45.20,0)" d="M5.70,0.00 L0.50,0.00 L0.50,6.50 Q2.50,5.80 4.00,6.20 Q6.30,7.00 6.30,10.50 Q6.30,15.50 3.00,15.50 L0.00,15.50"/>
<path transform="translate(54.20,0)" d="M2.50,0.00 Q5.00,1.50 5.00,4.00 L5.00,11.50 Q5.00,14.00 2.50,15.50 Q0.00,14.00 0.00,11.50 L0.00,4.00 Q0.00,1.50 2.50,0.00 Z"/>
</g>
<g transform="translate(236.8,155.3) rotate(0)" stroke="#fff" stroke-width="1" fill="none" stroke-linejoin="round" stroke-linecap="round">
<path transform="translate(0.00,0)" d="M4.90,2.00 Q9.20,2.00 9.20,6.50 Q9.20,11.00 4.90,11.00 Q0.60,11.00 0.60,6.50 Q0.60,2.00 4.90,2.00 Z M3.70,1.80 L3.70,13.40 M5.50,1.80 L5.50,13.40 M1.50,13.40 L7.70,13.40"/>
<path transform="translate(10.00,0)" d="M0.00,2.60 L2.70,0.00 L2.70,15.20"/>
<path transform="translate(15.20,0)" d="M0.00,2.60 Q0.30,0.00 3.00,0.00 Q6.00,0.00 6.00,3.00 Q6.00,5.00 4.50,7.50 L0.00,15.50 L6.00,15.50"/>
<path transform="translate(24.00,0)" d="M10.80,14.00 Q8.50,15.70 6.50,15.70 Q0.00,15.70 0.00,6.80 Q0.00,-2.00 6.50,-2.00 Q13.00,-2.00 13.00,5.50 Q13.00,10.50 11.00,10.50 Q9.70,10.50 9.70,9.00 L9.70,3.30 M9.70,7.10 Q9.70,3.20 6.50,3.20 Q3.20,3.20 3.20,7.10 Q3.20,11.00 6.50,11.00 Q9.70,11.00 9.70,7.10"/>
<path transform="translate(39.80,0)" d="M0.00,2.60 L2.70,0.00 L2.70,15.20"/>
<path transform="translate(45.20,0)" d="M5.70,0.00 L0.50,0.00 L0.50,6.50 Q2.50,5.80 4.00,6.20 Q6.30,7.00 6.30,10.50 Q6.30,15.50 3.00,15.50 L0.00,15.50"/>
<path transform="translate(54.20,0)" d="M2.50,0.00 Q5.00,1.50 5.00,4.00 L5.00,11.50 Q5.00,14.00 2.50,15.50 Q0.00,14.00 0.00,11.50 L0.00,4.00 Q0.00,1.50 2.50,0.00 Z"/>
</g>
<g transform="translate(28.5,221.2) rotate(-90)" stroke="#fff" stroke-width="1" fill="none" stroke-linejoin="round" stroke-linecap="round">
<path transform="translate(0.00,0)" d="M4.90,2.00 Q9.20,2.00 9.20,6.50 Q9.20,11.00 4.90,11.00 Q0.60,11.00 0.60,6.50 Q0.60,2.00 4.90,2.00 Z M3.70,1.80 L3.70,13.40 M5.50,1.80 L5.50,13.40 M1.50,13.40 L7.70,13.40"/>
<path transform="translate(10.00,0)" d="M0.00,2.60 L2.70,0.00 L2.70,15.20"/>
<path transform="translate(15.20,0)" d="M0.00,2.60 Q0.30,0.00 3.00,0.00 Q6.00,0.00 6.00,3.00 Q6.00,5.00 4.50,7.50 L0.00,15.50 L6.00,15.50"/>
<path transform="translate(24.00,0)" d="M10.80,14.00 Q8.50,15.70 6.50,15.70 Q0.00,15.70 0.00,6.80 Q0.00,-2.00 6.50,-2.00 Q13.00,-2.00 13.00,5.50 Q13.00,10.50 11.00,10.50 Q9.70,10.50 9.70,9.00 L9.70,3.30 M9.70,7.10 Q9.70,3.20 6.50,3.20 Q3.20,3.20 3.20,7.10 Q3.20,11.00 6.50,11.00 Q9.70,11.00 9.70,7.10"/>
<path transform="translate(39.00,0)" d="M0.00,2.60 Q0.30,0.00 3.00,0.00 Q6.00,0.00 6.00,3.00 Q6.00,5.00 4.50,7.50 L0.00,15.50 L6.00,15.50"/>
<path transform="translate(48.20,0)" d="M2.50,0.00 Q5.00,1.50 5.00,4.00 L5.00,11.50 Q5.00,14.00 2.50,15.50 Q0.00,14.00 0.00,11.50 L0.00,4.00 Q0.00,1.50 2.50,0.00 Z"/>
<path transform="translate(56.80,0)" d="M2.50,0.00 Q5.00,1.50 5.00,4.00 L5.00,11.50 Q5.00,14.00 2.50,15.50 Q0.00,14.00 0.00,11.50 L0.00,4.00 Q0.00,1.50 2.50,0.00 Z"/>
</g>
<g transform="translate(584.5,223.6) rotate(-90)" stroke="#fff" stroke-width="1" fill="none" stroke-linejoin="round" stroke-linecap="round">
<path transform="translate(0.00,0)" d="M4.90,2.00 Q9.20,2.00 9.20,6.50 Q9.20,11.00 4.90,11.00 Q0.60,11.00 0.60,6.50 Q0.60,2.00 4.90,2.00 Z M3.70,1.80 L3.70,13.40 M5.50,1.80 L5.50,13.40 M1.50,13.40 L7.70,13.40"/>
<path transform="translate(10.00,0)" d="M0.00,2.60 L2.70,0.00 L2.70,15.20"/>
<path transform="translate(15.20,0)" d="M0.00,2.60 Q0.30,0.00 3.00,0.00 Q6.00,0.00 6.00,3.00 Q6.00,5.00 4.50,7.50 L0.00,15.50 L6.00,15.50"/>
<path transform="translate(24.00,0)" d="M10.80,14.00 Q8.50,15.70 6.50,15.70 Q0.00,15.70 0.00,6.80 Q0.00,-2.00 6.50,-2.00 Q13.00,-2.00 13.00,5.50 Q13.00,10.50 11.00,10.50 Q9.70,10.50 9.70,9.00 L9.70,3.30 M9.70,7.10 Q9.70,3.20 6.50,3.20 Q3.20,3.20 3.20,7.10 Q3.20,11.00 6.50,11.00 Q9.70,11.00 9.70,7.10"/>
<path transform="translate(39.00,0)" d="M0.00,2.60 Q0.30,0.00 3.00,0.00 Q6.00,0.00 6.00,3.00 Q6.00,5.00 4.50,7.50 L0.00,15.50 L6.00,15.50"/>
<path transform="translate(48.20,0)" d="M2.50,0.00 Q5.00,1.50 5.00,4.00 L5.00,11.50 Q5.00,14.00 2.50,15.50 Q0.00,14.00 0.00,11.50 L0.00,4.00 Q0.00,1.50 2.50,0.00 Z"/>
<path transform="translate(56.80,0)" d="M2.50,0.00 Q5.00,1.50 5.00,4.00 L5.00,11.50 Q5.00,14.00 2.50,15.50 Q0.00,14.00 0.00,11.50 L0.00,4.00 Q0.00,1.50 2.50,0.00 Z"/>
</g>
<g transform="translate(619.2,226.3) rotate(-90)" stroke="#fff" stroke-width="1" fill="none" stroke-linejoin="round" stroke-linecap="round">
<path transform="translate(0.00,0)" d="M0.00,2.30 L2.39,0.00 L2.39,13.43"/>
<path transform="translate(5.13,0)" d="M4.86,1.33 Q4.42,0.00 2.65,0.00 Q0.27,0.00 0.27,3.54 L0.27,10.16 Q0.27,13.70 2.65,13.70 Q5.04,13.70 5.04,10.16 Q5.04,6.63 2.65,6.63 Q0.27,6.63 0.27,9.72"/>
<path transform="translate(12.55,0)" d="M2.21,0.00 Q4.42,1.33 4.42,3.54 L4.42,10.16 Q4.42,12.37 2.21,13.70 Q0.00,12.37 0.00,10.16 L0.00,3.54 Q0.00,1.33 2.21,0.00 Z"/>
<path transform="translate(19.09,0)" d="M2.21,0.00 Q4.42,1.33 4.42,3.54 L4.42,10.16 Q4.42,12.37 2.21,13.70 Q0.00,12.37 0.00,10.16 L0.00,3.54 Q0.00,1.33 2.21,0.00 Z"/>
</g>
<g transform="translate(602.6,296.8) rotate(-90)" stroke="#fff" stroke-width="1" fill="none" stroke-linejoin="round" stroke-linecap="round">
<path transform="translate(0.00,0)" d="M0.00,2.20 L2.28,0.00 L2.28,12.84"/>
<path transform="translate(4.90,0)" d="M2.11,0.00 Q4.22,1.27 4.22,3.38 L4.22,9.72 Q4.22,11.83 2.11,13.10 Q0.00,11.83 0.00,9.72 L0.00,3.38 Q0.00,1.27 2.11,0.00 Z"/>
<path transform="translate(12.17,0)" d="M2.11,0.00 Q4.22,1.27 4.22,3.38 L4.22,9.72 Q4.22,11.83 2.11,13.10 Q0.00,11.83 0.00,9.72 L0.00,3.38 Q0.00,1.27 2.11,0.00 Z"/>
</g>
<path d="M 48.96 80.60 L 46.40 91.48 L 52.50 91.48 M 51.16 88.05 L 51.16 95.50" stroke="#fff" stroke-width="1" fill="none" stroke-linejoin="round" stroke-linecap="square"/>
<path d="M 41.19 120.65 L 43.54 120.65 Q 45.35 121.68 45.35 124.62 Q 45.35 127.22 42.46 127.74 Q 45.35 129.30 45.35 132.76 Q 45.35 136.39 41.09 137.60" stroke="#fff" stroke-width="1" fill="none" stroke-linejoin="round" stroke-linecap="square"/>
<path d="M 575.76 120.65 L 578.02 120.65 Q 579.76 121.68 579.76 124.62 Q 579.76 127.22 576.99 127.74 Q 579.76 129.30 579.76 132.76 Q 579.76 136.39 575.67 137.60" stroke="#fff" stroke-width="1" fill="none" stroke-linejoin="round" stroke-linecap="square"/>
<path d="M 315.58 166.40 L 313.40 178.23 L 318.60 178.23 M 317.46 174.50 L 317.46 182.60" stroke="#fff" stroke-width="1" fill="none" stroke-linejoin="round" stroke-linecap="square"/>
<path d="M 197.56 225.15 Q 197.66 222.40 199.94 222.40 Q 202.54 222.40 202.54 225.32 Q 202.54 227.58 201.91 229.04 L 197.93 238.60 L 202.70 238.60" stroke="#fff" stroke-width="1" fill="none" stroke-linejoin="round" stroke-linecap="square"/>
<path d="M 245.00 219.40 L 242.40 231.23 L 248.60 231.23 M 247.24 227.50 L 247.24 235.60" stroke="#fff" stroke-width="1" fill="none" stroke-linejoin="round" stroke-linecap="square"/>
<path d="M 411.37 225.15 Q 411.47 222.40 413.84 222.40 Q 416.53 222.40 416.53 225.32 Q 416.53 227.58 415.88 229.04 L 411.75 238.60 L 416.70 238.60" stroke="#fff" stroke-width="1" fill="none" stroke-linejoin="round" stroke-linecap="square"/>
<path d="M 316.50 342.91 L 319.20 339.70 L 319.20 354.30" stroke="#fff" stroke-width="1" fill="none" stroke-linejoin="round" stroke-linecap="square"/>
<path transform="translate(0,0) rotate(0)" d="M372.4,43.4 L373.5,43.4 M374.6,42.6 L375.7,42.6 M370,46.4 L377.9,46.4 M371.5,46.4 L371.5,54.5 M371.5,49.7 L373.1,49.7 M371.5,51.9 L373.1,51.9 M375.7,46.4 L375.7,61.1 L374.6,61.9 M373.1,55.4 L376,55.4 M370.9,57.4 L375.7,57.4 M373.1,57.4 L370.1,62.6 M373.8,60.4 L375.3,62.3" stroke="#fff" stroke-width="1.0" fill="none" stroke-linecap="square"/>
<path transform="translate(0,0) rotate(0)" d="M380.9,50.4 L388.6,48.2 M384.6,42.3 L384.6,50.4 L383.1,55.2 L380.1,62.6 M387.5,48.9 L387.5,62.3 L385.7,61.1 M386,56.5 L383.8,60" stroke="#fff" stroke-width="1.0" fill="none" stroke-linecap="square"/>
<path transform="translate(0,0) rotate(0)" d="M391.4,43 L391.4,58.2 M390.1,51.5 L392.7,51.5 M390.1,59.7 L393.1,56.7 M396.4,42.3 L396.4,51.5 M393.4,47.1 L398.6,47.1 M394.5,48.6 L394.5,49.4 M398.2,48.6 L398.2,49.4 M393.1,51.4 L399,51.4 M394.3,62.3 L394.3,54.1 L398.2,54.1 L398.2,62.3 M394.3,61.1 L398.2,61.1 M395.3,57.1 L397.4,57.1 L397.4,59.7 L395.3,59.7 Z" stroke="#fff" stroke-width="1.0" fill="none" stroke-linecap="square"/>
<path transform="translate(0,0) rotate(0)" d="M170.4,336.2 L170.4,355.7 M168,342.4 L173,342.4 M168.3,343.3 L168.3,344 M168.3,349.3 L168.3,351 M172.2,339.5 L172.2,353 M174.5,335.3 L174.5,338.5 M174,340.3 L177,340.3 M174.5,345 L174.5,354.4 M173,348.6 L176,348.6 M171,354.4 L177,354.4 M175.5,343.3 L175.5,344.3 M170.9,351 L170.9,355.5" stroke="#fff" stroke-width="1.0" fill="none" stroke-linecap="square"/>
<path transform="translate(276.6,0.3) rotate(0)" d="M170.4,336.2 L170.4,355.7 M168,342.4 L173,342.4 M168.3,343.3 L168.3,344 M168.3,349.3 L168.3,351 M172.2,339.5 L172.2,353 M174.5,335.3 L174.5,338.5 M174,340.3 L177,340.3 M174.5,345 L174.5,354.4 M173,348.6 L176,348.6 M171,354.4 L177,354.4 M175.5,343.3 L175.5,344.3 M170.9,351 L170.9,355.5" stroke="#fff" stroke-width="1.0" fill="none" stroke-linecap="square"/>
<path transform="translate(0,0) rotate(0)" d="M689.2,90.4 L691,90.4 M686.8,91.3 L690,91.3 M688,91.3 L688,106.6 L687,106.2 M685,96.7 L687.8,96.7 M687.1,94.2 L691.7,94.2 M686.4,96.7 L684.3,103.8 M688.9,96.7 L691.7,104.1 M686,99.5 L687.6,99.5 M686,102 L687.6,102 M690.5,97 L691.5,96" stroke="#fff" stroke-width="1.0" fill="none" stroke-linecap="square"/>
<path transform="translate(0,0) rotate(0)" d="M698.5,89.2 L697.1,92.4 L695.3,97.7 M694.2,97.7 L701,97.7 M699.9,95.6 L701,97.4 M695.3,99.9 L699.6,99.9 L699.6,106.3 L695.3,106.3 Z" stroke="#fff" stroke-width="1.0" fill="none" stroke-linecap="square"/>
<path transform="translate(0,0) rotate(0)" d="M703.1,93.1 L706,93.1 M704.5,93.1 L704.5,105.2 L703.6,104.6 M706,90.6 L710.2,90.6 M708,90.6 L707.6,92.8 M706.7,92.8 L709.2,92.8 L709.2,101.3 L706.7,101.3 Z M707.9,95 L707.9,99.5 M707.4,101.3 L705.2,106.3 M708.4,101.3 L709.9,105.6" stroke="#fff" stroke-width="1.0" fill="none" stroke-linecap="square"/>
<path transform="translate(0,0) rotate(0)" d="M713.4,89.2 L713.4,106.3 M712,95.2 L714.9,95.2 M713.4,96 L712,100.5 M713.4,96 L714.6,98.5 M715.6,91.3 L718,91.3 M714.9,95.2 L719.1,95.2 M717.1,95.2 L717.1,106.3 L716.2,105.6 M715.6,97.4 L714.5,102.4 M718.4,97.7 L718.8,102" stroke="#fff" stroke-width="1.0" fill="none" stroke-linecap="square"/>
<path transform="translate(0,0) rotate(0)" d="M724.5,89.8 L724.5,90.8 M721.3,92.8 L727.3,92.8 M722.7,93.8 L726.2,93.8 L726.2,95.6 L722.7,95.6 Z M721.6,105.6 L721.6,97 L727.3,97 L727.3,106.6 L726.4,106.2 M723.4,99.9 L725.9,99.9 L725.9,103.4 L723.4,103.4 Z" stroke="#fff" stroke-width="1.0" fill="none" stroke-linecap="square"/>
<g transform="translate(645.9,362) rotate(-90)" stroke="#fff" stroke-width="1" fill="none" stroke-linejoin="round" stroke-linecap="round">
<path transform="translate(0.00,0)" d="M0.00,2.60 L2.70,0.00 L2.70,15.20"/>
<path transform="translate(4.50,0)" d="M2.50,0.00 Q5.00,1.50 5.00,4.00 L5.00,11.50 Q5.00,14.00 2.50,15.50 Q0.00,14.00 0.00,11.50 L0.00,4.00 Q0.00,1.50 2.50,0.00 Z"/>
<path transform="translate(11.50,0)" d="M2.50,0.00 Q5.00,1.50 5.00,4.00 L5.00,11.50 Q5.00,14.00 2.50,15.50 Q0.00,14.00 0.00,11.50 L0.00,4.00 Q0.00,1.50 2.50,0.00 Z"/>
</g>
<path transform="translate(645.9,362) rotate(-90) translate(20.1,0)" d="M1.5,0 L1.5,7 L0.8,6.5 M0,2 L3,2 M0,5.5 L3,4.5 M3.5,2 L7,2 M5.2,0 L4.8,4 L3.5,7 M6.3,2 L6.3,6.5 L7.2,6.5 M5.2,4.3 L6,5.2 M1,10.5 L6,10.5 M3.5,8 L3.5,15.5 M0,15.5 L7,15.5" stroke="#fff" stroke-width="1" fill="none" stroke-linecap="square"/>
<path transform="translate(645.9,362) rotate(-90) translate(29.5,0)" d="M0.5,0.5 L6.5,0.5 L6.5,4 L0.5,4 M0.5,0.5 L0.5,10 L-0.3,15.5 M2.5,7 L6,7 M1.5,10 L7,10 M4,10 L2.5,15 L6.5,15 M5.5,12.5 L6.8,15.3" stroke="#fff" stroke-width="1" fill="none" stroke-linecap="square"/>
<path transform="translate(645.9,362) rotate(-90) translate(37.3,0)" d="M0,8 L4,8 M2,6 L2,10" stroke="#fff" stroke-width="1" fill="none" stroke-linecap="square"/>
<path transform="translate(645.9,362) rotate(-90) translate(45.1,0)" d="M0.5,0 L0.5,16 M0.5,0.5 L2.5,0.5 L1.5,4 L2.5,7 L0.5,8 M5,0 L5,2 M3,3 L7,3 M4.5,3 L4.2,9 L3,15.5 M4.5,7.5 L6.5,7.5 L6.5,15 L5.5,14.3" stroke="#fff" stroke-width="1" fill="none" stroke-linecap="square"/>
<path transform="translate(645.9,362) rotate(-90) translate(53.7,0)" d="M3.5,0 L3.5,15.5 L2.6,14.8 M0,5 L3,5 L0,13 M6.5,3.5 L4,7.5 L7,14" stroke="#fff" stroke-width="1" fill="none" stroke-linecap="square"/>
</svg>
</body></html>
